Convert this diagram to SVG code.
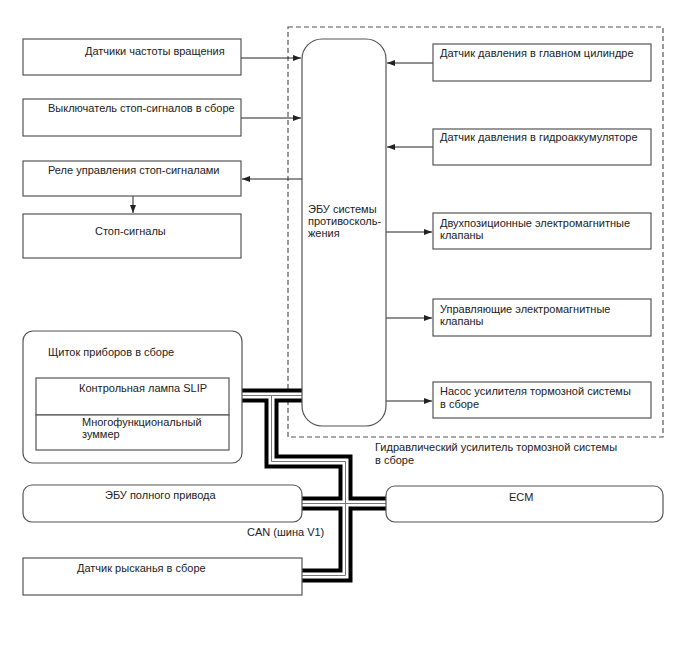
<svg xmlns="http://www.w3.org/2000/svg" width="688" height="658" viewBox="0 0 688 658">
<defs>
<style>
.box{fill:#fff;stroke:#555;stroke-width:1.2}
.dash{fill:none;stroke:#555;stroke-width:1.2;stroke-dasharray:5 3}
.ln{fill:none;stroke:#222;stroke-width:1}
.t{font-family:"Liberation Sans",Arial,sans-serif;font-size:11px;fill:#222}
.busb{fill:none;stroke:#000;stroke-width:14;stroke-linejoin:miter;stroke-linecap:butt}
.busw{fill:none;stroke:#fff;stroke-width:6;stroke-linejoin:miter;stroke-linecap:butt}
.busg{fill:none;stroke:#777;stroke-width:1}
</style>
<marker id="ah" viewBox="0 0 8 6" refX="8" refY="3" markerWidth="8" markerHeight="6" orient="auto" markerUnits="userSpaceOnUse">
<path d="M0,0 L8,3 L0,6 z" fill="#222"/>
</marker>
</defs>
<rect width="688" height="658" fill="#fff"/>

<g id="hydro-booster">
<rect class="dash" x="288" y="27" width="375" height="410"/>
<text class="t" x="375" y="451">Гидравлический усилитель тормозной системы</text>
<text class="t" x="375" y="464">в сборе</text>
</g>

<g id="connectors">
<path class="ln" d="M241,58 H301" marker-end="url(#ah)"/>
<path class="ln" d="M241,118 H301" marker-end="url(#ah)"/>
<path class="ln" d="M302,179 H242" marker-end="url(#ah)"/>
<path class="ln" d="M133,196 V213" marker-end="url(#ah)"/>
<path class="ln" d="M433,63 H387" marker-end="url(#ah)"/>
<path class="ln" d="M433,147 H387" marker-end="url(#ah)"/>
<path class="ln" d="M386,232 H432" marker-end="url(#ah)"/>
<path class="ln" d="M386,318 H432" marker-end="url(#ah)"/>
<path class="ln" d="M386,401 H432" marker-end="url(#ah)"/>
<g id="can-bus">
<path class="busb" d="M242,395.5 H302"/>
<path class="busb" d="M271.5,395.5 V461.5 H345.5 V575.5 H302"/>
<path class="busb" d="M302,503.5 H387"/>
<path class="busw" d="M242,395.5 H302"/>
<path class="busw" d="M271.5,395.5 V461.5 H345.5 V575.5 H302"/>
<path class="busw" d="M302,503.5 H387"/>
<path class="busg" d="M242,395.5 H302"/>
<path class="busg" d="M271.5,395.5 V461.5 H345.5 V575.5 H302"/>
<path class="busg" d="M302,503.5 H387"/>
</g>
</g>

<g id="wheel-speed-sensors">
<rect class="box" x="23" y="39" width="218" height="36"/>
<text class="t" x="85" y="55">Датчики частоты вращения</text>
</g>
<g id="stop-light-switch">
<rect class="box" x="23" y="99" width="218" height="37"/>
<text class="t" x="48" y="112">Выключатель стоп-сигналов в сборе</text>
</g>
<g id="stop-light-relay">
<rect class="box" x="23" y="161" width="218" height="35"/>
<text class="t" x="48" y="174">Реле управления стоп-сигналами</text>
</g>
<g id="stop-lights">
<rect class="box" x="23" y="214" width="218" height="44"/>
<text class="t" x="95" y="235">Стоп-сигналы</text>
</g>

<g id="skid-control-ecu">
<rect class="box" x="302" y="39" width="84" height="387" rx="20" ry="20"/>
<text class="t" x="308" y="213">ЭБУ системы</text>
<text class="t" x="308" y="225">противосколь-</text>
<text class="t" x="308" y="237">жения</text>
</g>

<g id="master-cyl-pressure-sensor">
<rect class="box" x="433" y="44" width="218" height="37"/>
<text class="t" x="440" y="57">Датчик давления в главном цилиндре</text>
</g>
<g id="accumulator-pressure-sensor">
<rect class="box" x="433" y="129" width="218" height="36"/>
<text class="t" x="440" y="141">Датчик давления в гидроаккумуляторе</text>
</g>
<g id="switching-solenoids">
<rect class="box" x="433" y="213" width="218" height="36"/>
<text class="t" x="440" y="227">Двухпозиционные электромагнитные</text>
<text class="t" x="440" y="239">клапаны</text>
</g>
<g id="control-solenoids">
<rect class="box" x="433" y="299" width="218" height="37"/>
<text class="t" x="440" y="313">Управляющие электромагнитные</text>
<text class="t" x="440" y="325">клапаны</text>
</g>
<g id="booster-pump">
<rect class="box" x="433" y="382" width="218" height="36"/>
<text class="t" x="440" y="395">Насос усилителя тормозной системы</text>
<text class="t" x="440" y="408">в сборе</text>
</g>

<g id="combination-meter">
<rect class="box" x="23" y="331" width="219" height="132" rx="10" ry="10"/>
<text class="t" x="48" y="356">Щиток приборов в сборе</text>
<rect class="box" x="36" y="378" width="193" height="37"/>
<text class="t" x="79" y="392">Контрольная лампа SLIP</text>
<rect class="box" x="36" y="415" width="193" height="35"/>
<text class="t" x="82" y="426">Многофункциональный</text>
<text class="t" x="82" y="438">зуммер</text>
</g>

<g id="4wd-ecu">
<rect class="box" x="23" y="485" width="279" height="37" rx="9" ry="9"/>
<text class="t" x="105" y="499">ЭБУ полного привода</text>
</g>
<g id="ecm">
<rect class="box" x="386" y="486" width="277" height="36" rx="9" ry="9"/>
<text class="t" x="509" y="501">ECM</text>
</g>
<g id="yaw-rate-sensor">
<rect class="box" x="23" y="558" width="279" height="37"/>
<text class="t" x="77" y="572">Датчик рысканья в сборе</text>
</g>
<text class="t" x="247" y="536">CAN (шина V1)</text>
</svg>
